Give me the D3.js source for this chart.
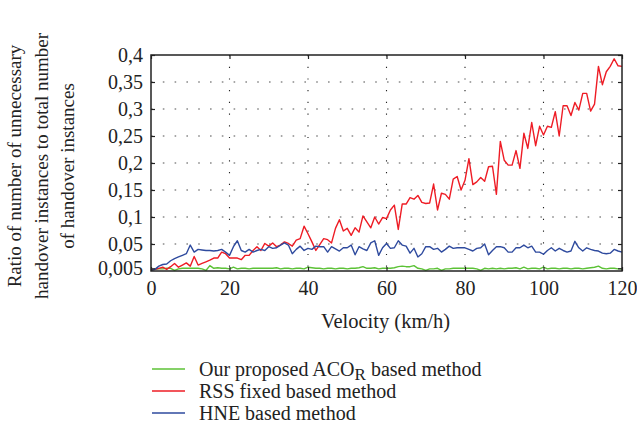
<!DOCTYPE html>
<html>
<head>
<meta charset="utf-8">
<script src="https://cdn.jsdelivr.net/npm/d3@7"></script>
<style>
  body { margin: 0; background: #fff; }
</style>
</head>
<body>
<div id="chart"></div>
<script>
const FONT = "'Liberation Serif', 'DejaVu Serif', serif";

// velocity in km/h, one sample per km/h
const velocity = d3.range(0, 121);

const acoValues = [
  0.002, 0.003, 0.004, 0.004, 0.005, 0.005, 0.001, 0.004, 0.005, 0.005,
  0.005, 0.005, 0.005, 0.004, 0.001, 0.010, 0.005, 0.006, 0.005, 0.005,
  0.004, 0.007, 0.004, 0.005, 0.005, 0.004, 0.005, 0.005, 0.005, 0.005,
  0.005, 0.005, 0.006, 0.004, 0.005, 0.005, 0.004, 0.005, 0.005, 0.004,
  0.007, 0.006, 0.005, 0.005, 0.004, 0.005, 0.005, 0.004, 0.005, 0.005,
  0.004, 0.005, 0.005, 0.006, 0.008, 0.005, 0.005, 0.006, 0.004, 0.005,
  0.005, 0.005, 0.006, 0.008, 0.009, 0.008, 0.008, 0.010, 0.005, 0.004,
  0.001, 0.004, 0.004, 0.005, 0.001, 0.004, 0.004, 0.005, 0.005, 0.005,
  0.005, 0.005, 0.005, 0.004, 0.001, 0.005, 0.004, 0.005, 0.004, 0.005,
  0.004, 0.005, 0.005, 0.006, 0.004, 0.007, 0.004, 0.005, 0.005, 0.004,
  0.007, 0.004, 0.005, 0.005, 0.004, 0.005, 0.005, 0.004, 0.005, 0.005,
  0.004, 0.005, 0.006, 0.007, 0.009, 0.005, 0.004, 0.005, 0.005, 0.004,
  0.004
];

const rssValues = [
  0.002, 0.003, 0.005, 0.007, 0.003, 0.008, 0.014, 0.007, 0.011, 0.015,
  0.009, 0.027, 0.011, 0.014, 0.017, 0.020, 0.024, 0.024, 0.035, 0.032,
  0.024, 0.024, 0.024, 0.021, 0.029, 0.029, 0.038, 0.045, 0.038, 0.051,
  0.046, 0.052, 0.045, 0.048, 0.054, 0.051, 0.046, 0.057, 0.060, 0.083,
  0.069, 0.054, 0.038, 0.049, 0.060, 0.058, 0.052, 0.079, 0.095, 0.074,
  0.079, 0.066, 0.080, 0.072, 0.102, 0.091, 0.080, 0.100, 0.087, 0.099,
  0.097, 0.113, 0.122, 0.077, 0.124, 0.124, 0.136, 0.133, 0.140, 0.127,
  0.125, 0.126, 0.161, 0.113, 0.144, 0.142, 0.133, 0.170, 0.175, 0.150,
  0.168, 0.208, 0.160, 0.165, 0.173, 0.166, 0.193, 0.194, 0.142, 0.240,
  0.205, 0.196, 0.196, 0.223, 0.190, 0.255, 0.227, 0.275, 0.232, 0.268,
  0.252, 0.268, 0.266, 0.295, 0.250, 0.306, 0.306, 0.288, 0.312, 0.298,
  0.329, 0.329, 0.296, 0.309, 0.379, 0.345, 0.369, 0.379, 0.393, 0.380,
  0.379
];

const hneValues = [
  0.001, 0.003, 0.009, 0.012, 0.013, 0.019, 0.023, 0.026, 0.029, 0.032,
  0.048, 0.035, 0.040, 0.039, 0.038, 0.038, 0.037, 0.038, 0.040, 0.035,
  0.029, 0.045, 0.056, 0.038, 0.035, 0.040, 0.035, 0.038, 0.040, 0.038,
  0.045, 0.042, 0.043, 0.048, 0.052, 0.048, 0.032, 0.040, 0.046, 0.038,
  0.042, 0.040, 0.046, 0.045, 0.045, 0.035, 0.045, 0.041, 0.037, 0.043,
  0.043, 0.048, 0.030, 0.045, 0.041, 0.038, 0.052, 0.056, 0.029, 0.043,
  0.051, 0.042, 0.043, 0.056, 0.048, 0.046, 0.033, 0.042, 0.026, 0.032,
  0.045, 0.045, 0.040, 0.042, 0.035, 0.040, 0.046, 0.042, 0.043, 0.043,
  0.043, 0.040, 0.037, 0.042, 0.043, 0.050, 0.030, 0.038, 0.045, 0.045,
  0.043, 0.035, 0.035, 0.043, 0.043, 0.048, 0.043, 0.046, 0.035, 0.035,
  0.031, 0.038, 0.043, 0.037, 0.042, 0.038, 0.035, 0.037, 0.055, 0.043,
  0.037, 0.043, 0.040, 0.038, 0.037, 0.033, 0.032, 0.033, 0.040, 0.037,
  0.035
];

const xTicks = [0, 20, 40, 60, 80, 100, 120];
const yTicks = [0.005, 0.05, 0.1, 0.15, 0.2, 0.25, 0.3, 0.35, 0.4];
const yTickLabels = ["0,005", "0,05", "0,1", "0,15", "0,2", "0,25", "0,3", "0,35", "0,4"];
const xGrid = [20, 40, 60, 80, 100];
const yGrid = [0.05, 0.1, 0.15, 0.2, 0.25, 0.3, 0.35];

const series = [
  { name: "aco", values: acoValues, color: "#5cc236" },
  { name: "rss", values: rssValues, color: "#ee1c25" },
  { name: "hne", values: hneValues, color: "#2e4a9e" }
];

const width = 637, height = 430;
const margin = { top: 55, right: 15, bottom: 159, left: 151 };
const innerW = width - margin.left - margin.right;
const innerH = height - margin.top - margin.bottom;

const svg = d3.select("#chart")
  .append("svg")
  .attr("width", width)
  .attr("height", height);

const g = svg.append("g")
  .attr("transform", `translate(${margin.left}, ${margin.top})`);

const x = d3.scaleLinear().domain([0, 120]).range([0, innerW]);
const y = d3.scaleLinear().domain([0, 0.4]).range([innerH, 0]);

// grid
g.selectAll("line.vgrid")
  .data(xGrid)
  .enter()
  .append("line")
  .attr("class", "vgrid")
  .attr("x1", d => x(d)).attr("x2", d => x(d))
  .attr("y1", 0).attr("y2", innerH)
  .style("stroke", "#222")
  .style("stroke-width", 1.1)
  .style("stroke-dasharray", "1.2,10.5");

g.selectAll("line.hgrid")
  .data(yGrid)
  .enter()
  .append("line")
  .attr("class", "hgrid")
  .attr("x1", 0).attr("x2", innerW)
  .attr("y1", d => y(d)).attr("y2", d => y(d))
  .style("stroke", "#8a8a8a")
  .style("stroke-width", 1.6)
  .style("stroke-dasharray", "1.6,10.2");

// lines
const line = d3.line()
  .x((d, i) => x(velocity[i]))
  .y(d => y(d));

g.selectAll("path.series")
  .data(series)
  .enter()
  .append("path")
  .attr("class", "series")
  .attr("d", d => line(d.values))
  .style("fill", "none")
  .style("stroke", d => d.color)
  .style("stroke-width", 1.4)
  .style("stroke-linejoin", "round");

// axes with inward ticks
const TICK = 4;
g.append("g")
  .attr("transform", `translate(0, ${innerH})`)
  .call(d3.axisBottom(x).tickValues(xTicks).tickSizeInner(-TICK).tickSizeOuter(0).tickPadding(10))
  .call(a => a.select("path.domain").remove());

g.append("g")
  .call(d3.axisTop(x).tickValues(xTicks).tickSizeInner(-TICK).tickSizeOuter(0).tickFormat(""))
  .call(a => a.select("path.domain").remove());

g.append("g")
  .call(d3.axisLeft(y).tickValues(yTicks).tickSizeInner(-TICK).tickSizeOuter(0).tickPadding(8)
    .tickFormat((d, i) => yTickLabels[i]))
  .call(a => a.select("path.domain").remove());

g.append("g")
  .attr("transform", `translate(${innerW}, 0)`)
  .call(d3.axisRight(y).tickValues(yTicks).tickSizeInner(-TICK).tickSizeOuter(0).tickFormat(""))
  .call(a => a.select("path.domain").remove());

g.selectAll(".tick line").style("stroke", "#222").style("stroke-width", 1.2);
g.selectAll(".tick text")
  .style("font-family", FONT)
  .style("font-size", "20px")
  .style("fill", "#222");

// frame
g.append("rect")
  .attr("width", innerW)
  .attr("height", innerH)
  .style("fill", "none")
  .style("stroke", "#222")
  .style("stroke-width", 1.5);

// axis titles
svg.append("text")
  .attr("x", margin.left + innerW / 2 - 1)
  .attr("y", 328)
  .attr("text-anchor", "middle")
  .style("font-family", FONT)
  .style("font-size", "20.5px")
  .style("fill", "#222")
  .text("Velocity (km/h)");

const yTitle = ["Ratio of number of unnecessary", "handover instances to total number", "of handover instances"];
svg.append("text")
  .attr("transform", `translate(21, 166) rotate(-90)`)
  .attr("text-anchor", "middle")
  .style("font-family", FONT)
  .style("font-size", "19px")
  .style("fill", "#222")
  .selectAll("tspan")
  .data(yTitle)
  .enter()
  .append("tspan")
  .attr("x", 0)
  .attr("dy", (d, i) => i === 0 ? 0 : 26.5)
  .text(d => d);

// legend
const legend = svg.append("g").attr("transform", "translate(152, 369)");
const legendRows = legend.selectAll("g")
  .data(series)
  .enter()
  .append("g")
  .attr("transform", (d, i) => `translate(0, ${i * 22})`);

legendRows.append("line")
  .attr("x1", 0).attr("x2", 33)
  .style("stroke", d => d.color)
  .style("stroke-width", 1.4);

const labels = legendRows.append("text")
  .attr("x", 47)
  .attr("y", 7)
  .style("font-family", FONT)
  .style("font-size", "20px")
  .style("fill", "#222");

labels.filter(d => d.name === "aco").each(function () {
  const t = d3.select(this);
  t.append("tspan").text("Our proposed ACO");
  t.append("tspan").attr("dy", 4).style("font-size", "17px").text("R");
  t.append("tspan").attr("dy", -4).text(" based method");
});
labels.filter(d => d.name === "rss").text("RSS fixed based method");
labels.filter(d => d.name === "hne").text("HNE based method");
</script>
</body>
</html>
